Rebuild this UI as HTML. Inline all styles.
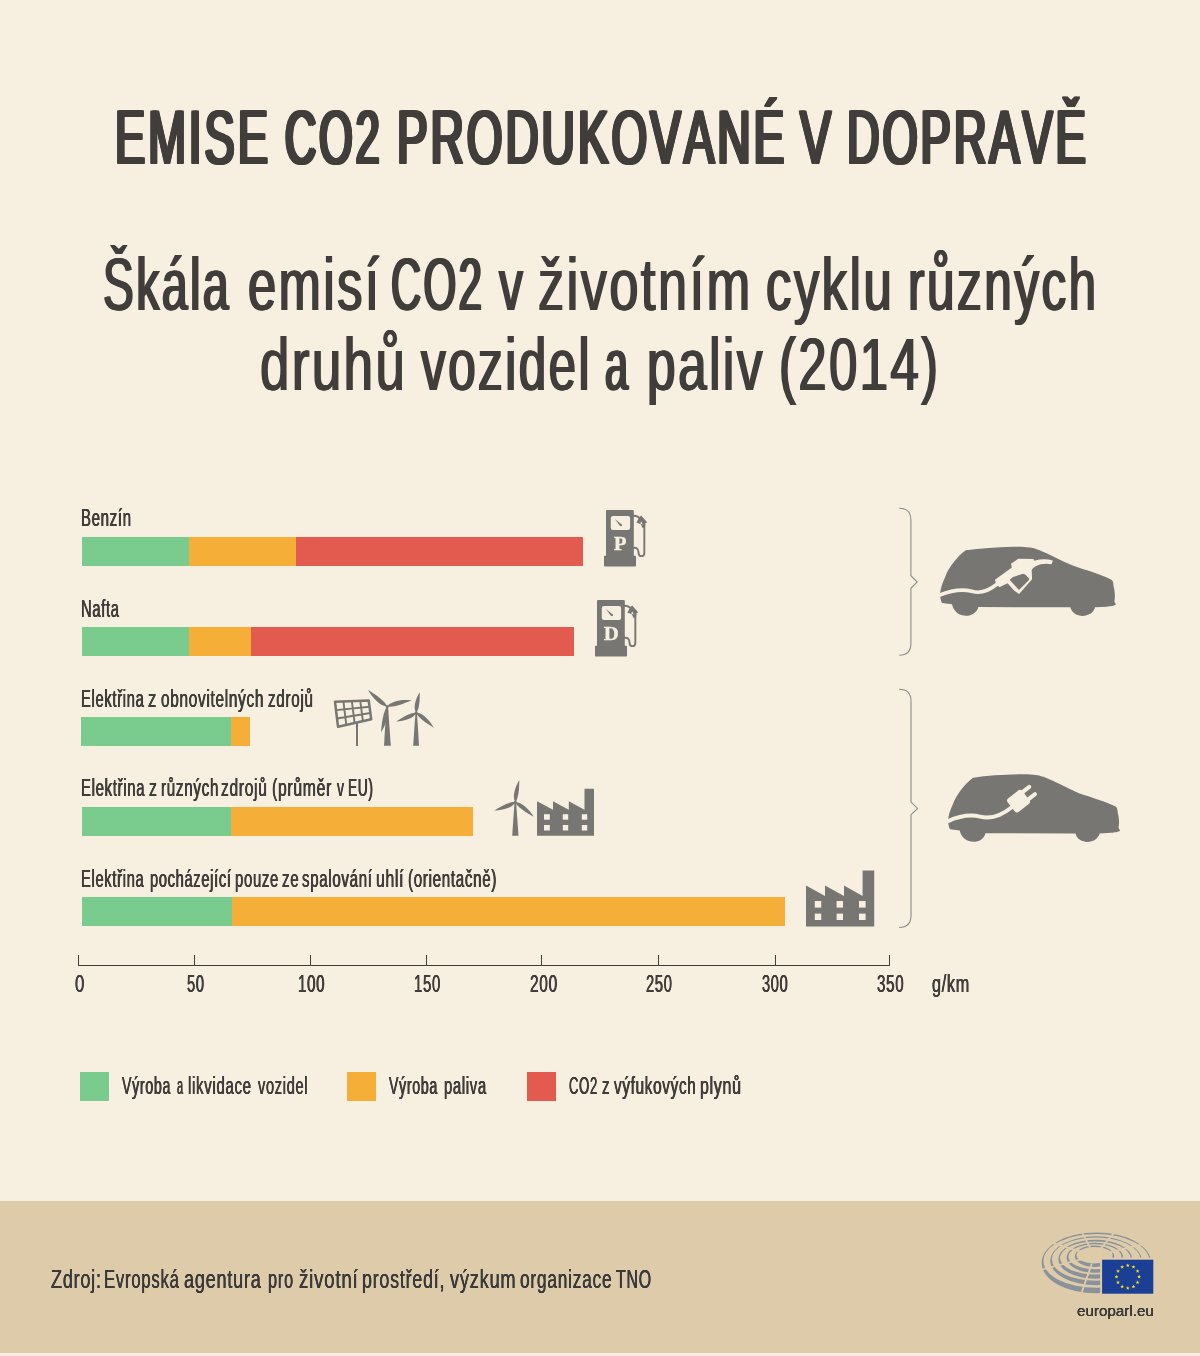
<!DOCTYPE html>
<html lang="cs"><head><meta charset="utf-8"><title>Emise CO2 produkované v dopravě</title><style>
html,body{margin:0;padding:0;font-family:"Liberation Sans",sans-serif}
body{width:1200px;height:1356px;background:#f7f0e1;overflow:hidden}
#page{position:relative;width:1200px;height:1356px;background:#f7f0e1;overflow:hidden;font-family:"Liberation Sans",sans-serif;color:#403d3b;font-kerning:none;font-variant-ligatures:none}
.t{position:absolute;left:0;width:1200px;white-space:nowrap;margin:0;padding:0;font-weight:normal}
.t span{position:absolute;top:0;white-space:nowrap;transform-origin:0 0}
.abs{position:absolute}
.bar{position:absolute;height:29px}
.bar span{position:absolute;top:0;height:29px}
.sw{position:absolute;top:1072px;width:29px;height:29px}
#axis i{position:absolute;display:block;background:#403d3b}
#footer{position:absolute;left:0;top:1200.5px;width:1200px;height:152.9px;background:#decbaa}
</style></head><body>
<div id="page">
<div id="footer"></div>
<svg class="abs" style="left:0;top:0" width="1200" height="1356" viewBox="0 0 1200 1356">
<g><path fill="#777673" d="M607.00 510.00H632.80q1 0 1 1V555.70H635.30q0.7 0 0.7 0.7V565.80q0 0.7 -0.7 0.7H604.70q-0.7 0 -0.7 -0.7V556.40q0 -0.7 0.7 -0.7H606.00V511.00q0 -1 1 -1z"/><rect x="610.80" y="515.90" width="19.3" height="14.1" rx="2.2" fill="#f7f0e1"/><path fill="#777673" d="M614.80 519.07L622.13 524.80L621.87 525.87L620.80 526.13L619.67 525.47Z"/><path fill="none" stroke="#777673" stroke-width="1.9" stroke-linecap="round" d="M633.67 515.73C636.67 515.73 638.67 516.67 640.67 519.33M644.33 522.00L644.33 552.67C644.33 557.33 638.67 557.33 638.53 552.67C638.40 548.67 636.67 547.47 633.67 547.73"/><path fill="#777673" d="M636.40 522.67L639.20 517.20L641.20 515.47L647.33 522.40L645.33 522.93L645.20 526.80L642.67 528.27L640.80 524.13L639.00 523.47Z"/><path fill="#f7f0e1" d="M640.13 523.33L641.47 521.47L642.67 524.80Z"/><text transform="translate(620.20 550.47) scale(1.1 1)" x="0" y="0" text-anchor="middle" font-family="Liberation Serif, serif" font-weight="bold" font-size="19" stroke="#f7f0e1" stroke-width="0.3" fill="#f7f0e1">P</text></g>
<g><path fill="#777673" d="M598.00 600.00H623.80q1 0 1 1V645.70H626.30q0.7 0 0.7 0.7V655.80q0 0.7 -0.7 0.7H595.70q-0.7 0 -0.7 -0.7V646.40q0 -0.7 0.7 -0.7H597.00V601.00q0 -1 1 -1z"/><rect x="601.80" y="605.90" width="19.3" height="14.1" rx="2.2" fill="#f7f0e1"/><path fill="#777673" d="M605.80 609.07L613.13 614.80L612.87 615.87L611.80 616.13L610.67 615.47Z"/><path fill="none" stroke="#777673" stroke-width="1.9" stroke-linecap="round" d="M624.67 605.73C627.67 605.73 629.67 606.67 631.67 609.33M635.33 612.00L635.33 642.67C635.33 647.33 629.67 647.33 629.53 642.67C629.40 638.67 627.67 637.47 624.67 637.73"/><path fill="#777673" d="M627.40 612.67L630.20 607.20L632.20 605.47L638.33 612.40L636.33 612.93L636.20 616.80L633.67 618.27L631.80 614.13L630.00 613.47Z"/><path fill="#f7f0e1" d="M631.13 613.33L632.47 611.47L633.67 614.80Z"/><text transform="translate(611.20 640.47) scale(1.1 1)" x="0" y="0" text-anchor="middle" font-family="Liberation Serif, serif" font-weight="bold" font-size="19" stroke="#f7f0e1" stroke-width="0.3" fill="#f7f0e1">D</text></g>
<path d="M335.00 701.80L368.70 700.50L371.20 719.20L338.00 726.80Z" fill="none" stroke="#777673" stroke-width="2.5" stroke-linejoin="round"/><path d="M343.43 701.48L346.30 724.90M351.85 701.15L354.60 723.00M360.27 700.83L362.90 721.10M336.00 710.13L369.53 706.73M337.00 718.47L370.37 712.97" fill="none" stroke="#777673" stroke-width="1.9"/><path d="M357.00 723.00V746.00" stroke="#777673" stroke-width="2" fill="none"/>
<path fill="#777673" d="M386.40 706.50L388.00 706.50L390.80 745.80L384.00 745.80Z"/><circle cx="387.20" cy="706.50" r="1.5" fill="#777673"/><path fill="#777673" d="M387.20 706.50C385.17 701.10 375.70 694.63 368.00 690.00C372.69 698.13 380.51 706.51 387.20 706.50Z"/><path fill="#777673" d="M387.20 706.50C392.74 707.94 403.37 703.93 411.50 700.30C402.23 699.46 390.98 701.03 387.20 706.50Z"/><path fill="#777673" d="M387.20 706.50C383.27 711.06 381.70 723.05 381.00 732.50C386.20 724.12 390.21 712.71 387.20 706.50Z"/>
<path fill="#777673" d="M415.40 712.80L417.00 712.80L419.00 745.80L413.20 745.80Z"/><circle cx="416.20" cy="712.80" r="1.5" fill="#777673"/><path fill="#777673" d="M416.20 712.80C419.46 709.12 419.86 699.64 419.70 692.20C415.52 698.91 412.76 707.98 416.20 712.80Z"/><path fill="#777673" d="M416.20 712.80C411.16 712.16 402.64 717.17 396.20 721.50C404.40 721.21 413.88 718.39 416.20 712.80Z"/><path fill="#777673" d="M416.20 712.80C418.03 717.78 426.73 723.62 433.80 727.80C429.59 720.27 422.44 712.60 416.20 712.80Z"/>
<path fill="#777673" d="M514.50 802.20L516.10 802.20L518.50 835.80L512.20 835.80Z"/><circle cx="515.30" cy="802.20" r="1.5" fill="#777673"/><path fill="#777673" d="M515.30 802.20C518.66 798.22 519.28 788.02 519.30 780.00C514.95 787.24 511.97 797.02 515.30 802.20Z"/><path fill="#777673" d="M515.30 802.20C510.13 801.44 501.07 806.29 494.20 810.50C502.68 810.39 512.62 807.77 515.30 802.20Z"/><path fill="#777673" d="M515.30 802.20C517.37 807.14 526.39 812.72 533.70 816.70C529.12 809.27 521.58 801.80 515.30 802.20Z"/>
<path fill="#777673" d="M537 835.8V801.2L553 809.8V801.2L568.8 809.8V801.2L584.5 809.8V788.8H594V835.8Z"/><rect x="544" y="814.2" width="5.80" height="5.50" fill="#f7f0e1"/><rect x="544" y="825" width="5.80" height="5.50" fill="#f7f0e1"/><rect x="562.8" y="814.2" width="5.40" height="5.50" fill="#f7f0e1"/><rect x="562.8" y="825" width="5.40" height="5.50" fill="#f7f0e1"/><rect x="581.8" y="814.2" width="5.40" height="5.50" fill="#f7f0e1"/><rect x="581.8" y="825" width="5.40" height="5.50" fill="#f7f0e1"/>
<path fill="#777673" d="M806 926.6V885.6L825 896V885.6L844 896V885.6L862.6 896V870.4H874.2V926.6Z"/><rect x="814.8" y="901" width="6.40" height="6.60" fill="#f7f0e1"/><rect x="814.8" y="913.6" width="6.40" height="6.40" fill="#f7f0e1"/><rect x="836.6" y="901" width="6.40" height="6.60" fill="#f7f0e1"/><rect x="836.6" y="913.6" width="6.40" height="6.40" fill="#f7f0e1"/><rect x="859" y="901" width="6.60" height="6.60" fill="#f7f0e1"/><rect x="859" y="913.6" width="6.60" height="6.40" fill="#f7f0e1"/>
<path d="M899.2 508.3Q910.9 508.3 910.9 520.0V575.7L917.2 582.0L910.9 588.3V643.5000000000001Q910.9 655.2 899.2 655.2" fill="none" stroke="#8d8c87" stroke-width="1.1"/>
<path d="M899.0 689.3Q911.0 689.3 911.0 701.3V802.1L917.6 808.4L911.0 814.6999999999999V915.5Q911.0 927.5 899.0 927.5" fill="none" stroke="#8d8c87" stroke-width="1.1"/>
<path fill="#777673" d="M942.00 603.00C940.33 599.17 939.67 595.83 940.33 591.67C941.00 586.67 943.00 581.67 945.33 576.67C948.33 568.33 956.67 556.67 965.83 550.33C980.00 548.33 996.67 547.17 1013.33 546.83C1025.00 546.50 1031.67 547.33 1038.33 549.67C1050.00 554.17 1061.67 560.83 1073.33 565.83C1086.67 570.50 1101.67 574.67 1111.33 579.67C1113.33 580.83 1113.33 583.33 1113.67 586.67C1115.33 593.33 1115.00 598.33 1114.33 601.67L1116.00 604.33C1114.67 606.00 1110.00 606.33 1106.67 606.67L1095.00 607.33C1092.50 618.33 1073.33 619.17 1070.33 607.33L978.33 607.00C975.33 619.17 955.00 619.17 952.00 604.33Z"/><path fill="none" stroke="#f7f0e1" stroke-width="3.7" d="M939.17 595.33C951.67 590.33 961.67 588.67 971.67 591.33C983.33 594.67 991.67 588.33 1000.00 582.00"/><path fill="#f7f0e1" fill-rule="evenodd" d="M995.00 579.67L1011.80 567.47L1011.00 563.67L1018.33 558.67L1033.53 559.00L1034.47 560.67C1040.33 559.00 1046.33 558.67 1052.87 560.53L1051.67 564.33C1046.33 563.00 1040.33 563.67 1036.33 566.00L1033.13 568.00L1031.67 570.00L1032.07 579.33L1019.13 594.00L1014.33 590.80L1007.53 583.13L999.33 587.13L995.67 582.67ZM1009.67 579.80L1013.00 577.00L1023.13 573.87L1025.13 574.40L1029.40 578.67L1028.73 580.13L1019.00 590.00Z"/>
<path fill="#777673" d="M949.96 829.26C948.33 825.51 947.67 822.25 948.33 818.18C948.98 813.29 950.93 808.40 953.22 803.51C956.15 795.36 964.30 783.95 973.26 777.75C987.12 775.80 1003.42 774.66 1019.72 774.33C1031.13 774.00 1037.65 774.82 1044.17 777.10C1055.58 781.50 1066.99 788.02 1078.40 792.91C1091.44 797.48 1106.11 801.55 1115.56 806.44C1117.52 807.58 1117.52 810.03 1117.85 813.29C1119.48 819.81 1119.15 824.70 1118.50 827.96L1120.13 830.57C1118.82 832.20 1114.26 832.52 1111.00 832.85L1099.59 833.50C1097.14 844.26 1078.40 845.07 1075.47 833.50L985.49 833.17C982.56 845.07 962.67 845.07 959.74 830.57Z"/><path fill="none" stroke="#f7f0e1" stroke-width="4.0" d="M947.50 821.33C960.00 815.83 970.00 814.17 980.00 816.67C993.33 820.00 1003.33 814.17 1012.00 807.00"/><g transform="translate(1018.33 801.33) rotate(-38)"><rect x="-9" y="-8.6" width="18.5" height="17.2" rx="3" fill="#f7f0e1"/><rect x="7" y="-6.7" width="12.5" height="4.1" rx="2" fill="#f7f0e1"/><rect x="7" y="2.6" width="12.5" height="4.1" rx="2" fill="#f7f0e1"/></g>
<g><path d="M1041.73 1262.93A54.66 30.04 0 1 0 1151.04 1262.93A54.66 30.04 0 1 0 1041.73 1262.93ZM1043.48 1260.95A52.91 26.54 0 1 0 1149.29 1260.95A52.91 26.54 0 1 0 1043.48 1260.95ZM1050.12 1260.75A45.91 24.35 0 1 0 1141.94 1260.75A45.91 24.35 0 1 0 1050.12 1260.75ZM1051.88 1259.17A44.16 21.26 0 1 0 1140.19 1259.17A44.16 21.26 0 1 0 1051.88 1259.17ZM1058.29 1259.26A36.97 19.37 0 1 0 1132.23 1259.26A36.97 19.37 0 1 0 1058.29 1259.26ZM1060.04 1257.97A35.22 16.57 0 1 0 1130.48 1257.97A35.22 16.57 0 1 0 1060.04 1257.97ZM1066.69 1257.77A28.25 14.73 0 1 0 1123.18 1257.77A28.25 14.73 0 1 0 1066.69 1257.77ZM1068.44 1256.78A26.50 12.22 0 1 0 1121.43 1256.78A26.50 12.22 0 1 0 1068.44 1256.78ZM1074.92 1256.28A19.66 10.50 0 1 0 1114.23 1256.28A19.66 10.50 0 1 0 1074.92 1256.28ZM1076.55 1255.23A18.03 8.05 0 1 0 1112.60 1255.23A18.03 8.05 0 1 0 1076.55 1255.23Z" fill="#8a929b" fill-rule="evenodd"/><path d="M1086.85 1253.56L1041.51 1239.70M1090.77 1248.82L1075.99 1220.80M1099.67 1249.80L1122.16 1223.28M1102.28 1254.02L1149.51 1242.59M1091.86 1263.45L1081.85 1292.02M1086.75 1257.90L1039.99 1270.00" stroke="#decbaa" stroke-width="1.8" fill="none"/><rect x="1100.12" y="1257.57" width="56.47" height="37.68" fill="#decbaa"/><rect x="1102.1" y="1259.7" width="51.2" height="34" fill="#1b3f94"/><polygon fill="#f9e11e" points="1127.80,1263.40 1128.29,1264.82 1129.80,1264.85 1128.60,1265.76 1129.03,1267.20 1127.80,1266.34 1126.57,1267.20 1127.00,1265.76 1125.80,1264.85 1127.31,1264.82"/><polygon fill="#f9e11e" points="1133.45,1264.91 1133.94,1266.33 1135.45,1266.36 1134.25,1267.27 1134.68,1268.71 1133.45,1267.85 1132.22,1268.71 1132.65,1267.27 1131.45,1266.36 1132.96,1266.33"/><polygon fill="#f9e11e" points="1137.59,1269.05 1138.08,1270.47 1139.58,1270.50 1138.38,1271.41 1138.82,1272.85 1137.59,1271.99 1136.35,1272.85 1136.79,1271.41 1135.59,1270.50 1137.09,1270.47"/><polygon fill="#f9e11e" points="1139.10,1274.70 1139.59,1276.12 1141.10,1276.15 1139.90,1277.06 1140.33,1278.50 1139.10,1277.64 1137.87,1278.50 1138.30,1277.06 1137.10,1276.15 1138.61,1276.12"/><polygon fill="#f9e11e" points="1137.59,1280.35 1138.08,1281.77 1139.58,1281.80 1138.38,1282.71 1138.82,1284.15 1137.59,1283.29 1136.35,1284.15 1136.79,1282.71 1135.59,1281.80 1137.09,1281.77"/><polygon fill="#f9e11e" points="1133.45,1284.49 1133.94,1285.91 1135.45,1285.94 1134.25,1286.85 1134.68,1288.29 1133.45,1287.43 1132.22,1288.29 1132.65,1286.85 1131.45,1285.94 1132.96,1285.91"/><polygon fill="#f9e11e" points="1127.80,1286.00 1128.29,1287.42 1129.80,1287.45 1128.60,1288.36 1129.03,1289.80 1127.80,1288.94 1126.57,1289.80 1127.00,1288.36 1125.80,1287.45 1127.31,1287.42"/><polygon fill="#f9e11e" points="1122.15,1284.49 1122.64,1285.91 1124.15,1285.94 1122.95,1286.85 1123.38,1288.29 1122.15,1287.43 1120.92,1288.29 1121.35,1286.85 1120.15,1285.94 1121.66,1285.91"/><polygon fill="#f9e11e" points="1118.01,1280.35 1118.51,1281.77 1120.01,1281.80 1118.81,1282.71 1119.25,1284.15 1118.01,1283.29 1116.78,1284.15 1117.22,1282.71 1116.02,1281.80 1117.52,1281.77"/><polygon fill="#f9e11e" points="1116.50,1274.70 1116.99,1276.12 1118.50,1276.15 1117.30,1277.06 1117.73,1278.50 1116.50,1277.64 1115.27,1278.50 1115.70,1277.06 1114.50,1276.15 1116.01,1276.12"/><polygon fill="#f9e11e" points="1118.01,1269.05 1118.51,1270.47 1120.01,1270.50 1118.81,1271.41 1119.25,1272.85 1118.01,1271.99 1116.78,1272.85 1117.22,1271.41 1116.02,1270.50 1117.52,1270.47"/><polygon fill="#f9e11e" points="1122.15,1264.91 1122.64,1266.33 1124.15,1266.36 1122.95,1267.27 1123.38,1268.71 1122.15,1267.85 1120.92,1268.71 1121.35,1267.27 1120.15,1266.36 1121.66,1266.33"/></g>
</svg>
<h1 class="t h1" style="top:100.30px;font-size:75.4px;line-height:75.4px;"><span style="left:114.87px;transform:scaleX(0.6009);letter-spacing:4.99px;text-shadow:-2.64px 0.00px 0,-2.64px 1.00px 0,0.00px 1.00px 0,2.64px 0.00px 0,2.64px 1.00px 0;">EMISE</span> <span style="left:284.50px;transform:scaleX(0.5720);letter-spacing:5.24px;text-shadow:-2.95px 0.00px 0,-2.95px 1.00px 0,0.00px 1.00px 0,2.95px 0.00px 0,2.95px 1.00px 0;">CO2</span> <span style="left:396.99px;transform:scaleX(0.6090);letter-spacing:4.93px;text-shadow:-2.56px 0.00px 0,-2.56px 1.00px 0,0.00px 1.00px 0,2.56px 0.00px 0,2.56px 1.00px 0;">PRODUKOVANÉ</span> <span style="left:799.62px;transform:scaleX(0.6175);letter-spacing:4.86px;text-shadow:-2.47px 0.00px 0,-2.47px 1.00px 0,0.00px 1.00px 0,2.47px 0.00px 0,2.47px 1.00px 0;">V</span> <span style="left:847.39px;transform:scaleX(0.5987);letter-spacing:5.01px;text-shadow:-2.66px 0.00px 0,-2.66px 1.00px 0,0.00px 1.00px 0,2.66px 0.00px 0,2.66px 1.00px 0;">DOPRAVĚ</span></h1>
<h2 class="t h2" style="top:248.30px;font-size:74.5px;line-height:74.5px;"><span style="left:103.13px;transform:scaleX(0.6195);letter-spacing:4.04px;text-shadow:-1.81px 0.00px 0,1.81px 0.00px 0;">Škála</span> <span style="left:247.57px;transform:scaleX(0.6795);letter-spacing:3.68px;text-shadow:-1.36px 0.00px 0,1.36px 0.00px 0;">emisí</span> <span style="left:391.19px;transform:scaleX(0.5607);letter-spacing:4.46px;text-shadow:-2.34px 0.00px 0,2.34px 0.00px 0;">CO2</span> <span style="left:498.88px;transform:scaleX(0.6426);letter-spacing:3.89px;text-shadow:-1.63px 0.00px 0,1.63px 0.00px 0;">v</span> <span style="left:537.93px;transform:scaleX(0.7018);letter-spacing:3.56px;text-shadow:-1.21px 0.00px 0,1.21px 0.00px 0;">životním</span> <span style="left:766.26px;transform:scaleX(0.6816);letter-spacing:3.67px;text-shadow:-1.35px 0.00px 0,1.35px 0.00px 0;">cyklu</span> <span style="left:907.69px;transform:scaleX(0.6637);letter-spacing:3.77px;text-shadow:-1.47px 0.00px 0,1.47px 0.00px 0;">různých</span></h2>
<h2 class="t h2" style="top:328.30px;font-size:74.5px;line-height:74.5px;"><span style="left:260.32px;transform:scaleX(0.7077);letter-spacing:3.53px;text-shadow:-1.18px 0.00px 0,1.18px 0.00px 0;">druhů</span> <span style="left:420.81px;transform:scaleX(0.6619);letter-spacing:3.78px;text-shadow:-1.48px 0.00px 0,1.48px 0.00px 0;">vozidel</span> <span style="left:605.38px;transform:scaleX(0.5549);letter-spacing:4.51px;text-shadow:-2.40px 0.00px 0,2.40px 0.00px 0;">a</span> <span style="left:647.09px;transform:scaleX(0.6885);letter-spacing:3.63px;text-shadow:-1.30px 0.00px 0,1.30px 0.00px 0;">paliv</span> <span style="left:779.48px;transform:scaleX(0.6805);letter-spacing:3.67px;text-shadow:-1.35px 0.00px 0,1.35px 0.00px 0;">(2014)</span></h2>
<div class="t lab" style="top:507.30px;font-size:23.5px;line-height:23.5px;"><span style="left:80.97px;transform:scaleX(0.6355);letter-spacing:1.10px;text-shadow:-0.47px 0.00px 0,0.47px 0.00px 0;">Benzín</span></div>
<div class="t lab" style="top:598.30px;font-size:23.5px;line-height:23.5px;"><span style="left:80.99px;transform:scaleX(0.6268);letter-spacing:1.12px;text-shadow:-0.48px 0.00px 0,0.48px 0.00px 0;">Nafta</span></div>
<div class="t lab" style="top:688.30px;font-size:23.5px;line-height:23.5px;"><span style="left:80.99px;transform:scaleX(0.6257);letter-spacing:1.12px;text-shadow:-0.48px 0.00px 0,0.48px 0.00px 0;">Elektřina</span> <span style="left:148.43px;transform:scaleX(0.7063);letter-spacing:0.99px;text-shadow:-0.42px 0.00px 0,0.42px 0.00px 0;">z</span> <span style="left:160.95px;transform:scaleX(0.6544);letter-spacing:1.07px;text-shadow:-0.46px 0.00px 0,0.46px 0.00px 0;">obnovitelných</span> <span style="left:267.78px;transform:scaleX(0.6472);letter-spacing:1.08px;text-shadow:-0.46px 0.00px 0,0.46px 0.00px 0;">zdrojů</span></div>
<div class="t lab" style="top:777.30px;font-size:23.5px;line-height:23.5px;"><span style="left:80.98px;transform:scaleX(0.6335);letter-spacing:1.10px;text-shadow:-0.47px 0.00px 0,0.47px 0.00px 0;">Elektřina</span> <span style="left:148.66px;transform:scaleX(0.6752);letter-spacing:1.04px;text-shadow:-0.44px 0.00px 0,0.44px 0.00px 0;">z</span> <span style="left:160.79px;transform:scaleX(0.6465);letter-spacing:1.08px;text-shadow:-0.46px 0.00px 0,0.46px 0.00px 0;">různých</span> <span style="left:221.27px;transform:scaleX(0.6619);letter-spacing:1.06px;text-shadow:-0.45px 0.00px 0,0.45px 0.00px 0;">zdrojů</span> <span style="left:272.12px;transform:scaleX(0.6703);letter-spacing:1.04px;text-shadow:-0.45px 0.00px 0,0.45px 0.00px 0;">(průměr</span> <span style="left:336.75px;transform:scaleX(0.5954);letter-spacing:1.18px;text-shadow:-0.50px 0.00px 0,0.50px 0.00px 0;">v</span> <span style="left:347.68px;transform:scaleX(0.5824);letter-spacing:1.20px;text-shadow:-0.52px 0.00px 0,0.52px 0.00px 0;">EU)</span></div>
<div class="t lab" style="top:868.30px;font-size:23.5px;line-height:23.5px;"><span style="left:81.00px;transform:scaleX(0.6246);letter-spacing:1.12px;text-shadow:-0.48px 0.00px 0,0.48px 0.00px 0;">Elektřina</span> <span style="left:149.86px;transform:scaleX(0.6218);letter-spacing:1.13px;text-shadow:-0.48px 0.00px 0,0.48px 0.00px 0;">pocházející</span> <span style="left:234.84px;transform:scaleX(0.6328);letter-spacing:1.11px;text-shadow:-0.47px 0.00px 0,0.47px 0.00px 0;">pouze</span> <span style="left:282.19px;transform:scaleX(0.6441);letter-spacing:1.09px;text-shadow:-0.47px 0.00px 0,0.47px 0.00px 0;">ze</span> <span style="left:302.38px;transform:scaleX(0.6391);letter-spacing:1.10px;text-shadow:-0.47px 0.00px 0,0.47px 0.00px 0;">spalování</span> <span style="left:375.78px;transform:scaleX(0.6704);letter-spacing:1.04px;text-shadow:-0.45px 0.00px 0,0.45px 0.00px 0;">uhlí</span> <span style="left:408.36px;transform:scaleX(0.6434);letter-spacing:1.09px;text-shadow:-0.47px 0.00px 0,0.47px 0.00px 0;">(orientačně)</span></div>
<div class="t tick" style="top:973.30px;font-size:23.0px;line-height:23.0px;"><span style="left:75.45px;transform:scaleX(0.7276);letter-spacing:0.96px;text-shadow:-0.41px 0.00px 0,0.41px 0.00px 0;">0</span></div>
<div class="t tick" style="top:973.30px;font-size:23.0px;line-height:23.0px;"><span style="left:187.21px;transform:scaleX(0.6354);letter-spacing:1.10px;text-shadow:-0.47px 0.00px 0,0.47px 0.00px 0;">50</span></div>
<div class="t tick" style="top:973.30px;font-size:23.0px;line-height:23.0px;"><span style="left:298.15px;transform:scaleX(0.6550);letter-spacing:1.07px;text-shadow:-0.46px 0.00px 0,0.46px 0.00px 0;">100</span></div>
<div class="t tick" style="top:973.30px;font-size:23.0px;line-height:23.0px;"><span style="left:414.16px;transform:scaleX(0.6494);letter-spacing:1.08px;text-shadow:-0.46px 0.00px 0,0.46px 0.00px 0;">150</span></div>
<div class="t tick" style="top:973.30px;font-size:23.0px;line-height:23.0px;"><span style="left:529.52px;transform:scaleX(0.6718);letter-spacing:1.04px;text-shadow:-0.45px 0.00px 0,0.45px 0.00px 0;">200</span></div>
<div class="t tick" style="top:973.30px;font-size:23.0px;line-height:23.0px;"><span style="left:645.76px;transform:scaleX(0.6388);letter-spacing:1.10px;text-shadow:-0.47px 0.00px 0,0.47px 0.00px 0;">250</span></div>
<div class="t tick" style="top:973.30px;font-size:23.0px;line-height:23.0px;"><span style="left:761.74px;transform:scaleX(0.6339);letter-spacing:1.10px;text-shadow:-0.47px 0.00px 0,0.47px 0.00px 0;">300</span></div>
<div class="t tick" style="top:973.30px;font-size:23.0px;line-height:23.0px;"><span style="left:877.22px;transform:scaleX(0.6585);letter-spacing:1.06px;text-shadow:-0.46px 0.00px 0,0.46px 0.00px 0;">350</span></div>
<div class="t tick" style="top:973.30px;font-size:23.0px;line-height:23.0px;"><span style="left:932.22px;transform:scaleX(0.7053);letter-spacing:0.99px;text-shadow:-0.43px 0.00px 0,0.43px 0.00px 0;">g/km</span></div>
<div class="t leg" style="top:1075.30px;font-size:23.5px;line-height:23.5px;"><span style="left:122.14px;transform:scaleX(0.6025);letter-spacing:1.16px;text-shadow:-0.50px 0.00px 0,0.50px 0.00px 0;">Výroba</span> <span style="left:176.74px;transform:scaleX(0.4639);letter-spacing:1.51px;text-shadow:-0.65px 0.00px 0,0.65px 0.00px 0;">a</span> <span style="left:188.19px;transform:scaleX(0.6366);letter-spacing:1.10px;text-shadow:-0.47px 0.00px 0,0.47px 0.00px 0;">likvidace</span> <span style="left:258.45px;transform:scaleX(0.6196);letter-spacing:1.13px;text-shadow:-0.48px 0.00px 0,0.48px 0.00px 0;">vozidel</span></div>
<div class="t leg" style="top:1075.30px;font-size:23.5px;line-height:23.5px;"><span style="left:389.44px;transform:scaleX(0.6012);letter-spacing:1.16px;text-shadow:-0.50px 0.00px 0,0.50px 0.00px 0;">Výroba</span> <span style="left:444.15px;transform:scaleX(0.6295);letter-spacing:1.11px;text-shadow:-0.48px 0.00px 0,0.48px 0.00px 0;">paliva</span></div>
<div class="t leg" style="top:1075.30px;font-size:23.5px;line-height:23.5px;"><span style="left:569.14px;transform:scaleX(0.5550);letter-spacing:1.26px;text-shadow:-0.54px 0.00px 0,0.54px 0.00px 0;">CO2</span> <span style="left:601.69px;transform:scaleX(0.6440);letter-spacing:1.09px;text-shadow:-0.47px 0.00px 0,0.47px 0.00px 0;">z</span> <span style="left:613.75px;transform:scaleX(0.6490);letter-spacing:1.08px;text-shadow:-0.46px 0.00px 0,0.46px 0.00px 0;">výfukových</span> <span style="left:700.07px;transform:scaleX(0.6798);letter-spacing:1.03px;text-shadow:-0.44px 0.00px 0,0.44px 0.00px 0;">plynů</span></div>
<div class="t src" style="top:1266.30px;font-size:26.5px;line-height:26.5px;color:#3b3a3a;"><span style="left:50.88px;transform:scaleX(0.6793);letter-spacing:1.18px;text-shadow:-0.22px 0.00px 0,0.22px 0.00px 0;">Zdroj:</span> <span style="left:104.39px;transform:scaleX(0.6270);letter-spacing:1.28px;text-shadow:-0.24px 0.00px 0,0.24px 0.00px 0;">Evropská</span> <span style="left:184.38px;transform:scaleX(0.6803);letter-spacing:1.18px;text-shadow:-0.22px 0.00px 0,0.22px 0.00px 0;">agentura</span> <span style="left:267.90px;transform:scaleX(0.6144);letter-spacing:1.30px;text-shadow:-0.24px 0.00px 0,0.24px 0.00px 0;">pro</span> <span style="left:299.19px;transform:scaleX(0.7044);letter-spacing:1.14px;text-shadow:-0.21px 0.00px 0,0.21px 0.00px 0;">životní</span> <span style="left:362.10px;transform:scaleX(0.6722);letter-spacing:1.19px;text-shadow:-0.22px 0.00px 0,0.22px 0.00px 0;">prostředí,</span> <span style="left:449.89px;transform:scaleX(0.6854);letter-spacing:1.17px;text-shadow:-0.22px 0.00px 0,0.22px 0.00px 0;">výzkum</span> <span style="left:520.03px;transform:scaleX(0.6510);letter-spacing:1.23px;text-shadow:-0.23px 0.00px 0,0.23px 0.00px 0;">organizace</span> <span style="left:615.79px;transform:scaleX(0.5992);letter-spacing:1.34px;text-shadow:-0.25px 0.00px 0,0.25px 0.00px 0;">TNO</span></div>
<div class="t eu" style="top:1303.30px;font-size:15.5px;line-height:15.5px;color:#3b3a3a;"><span style="left:1077.20px;transform:scaleX(0.9801);text-shadow:-0.05px 0.00px 0,0.05px 0.00px 0;">europarl.eu</span></div>
<div class="bar" style="left:82px;top:537px;width:501px"><span style="left:0px;width:107px;background:#7acc8e"></span><span style="left:107px;width:107px;background:#f5af38"></span><span style="left:214px;width:287px;background:#e25b4e"></span></div>
<div class="bar" style="left:82px;top:627px;width:492px"><span style="left:0px;width:107px;background:#7acc8e"></span><span style="left:107px;width:62px;background:#f5af38"></span><span style="left:169px;width:323px;background:#e25b4e"></span></div>
<div class="bar" style="left:81px;top:717px;width:169px"><span style="left:0px;width:150px;background:#7acc8e"></span><span style="left:150px;width:19px;background:#f5af38"></span></div>
<div class="bar" style="left:82px;top:807px;width:391px"><span style="left:0px;width:149px;background:#7acc8e"></span><span style="left:149px;width:242px;background:#f5af38"></span></div>
<div class="bar" style="left:82px;top:897px;width:703px"><span style="left:0px;width:150px;background:#7acc8e"></span><span style="left:150px;width:553px;background:#f5af38"></span></div>
<div id="axis"><i style="left:79px;top:965px;width:811px;height:1px"></i><i style="left:78px;top:955px;width:1px;height:11px"></i><i style="left:194px;top:955px;width:1px;height:11px"></i><i style="left:310px;top:955px;width:1px;height:11px"></i><i style="left:426px;top:955px;width:1px;height:11px"></i><i style="left:541px;top:955px;width:1px;height:11px"></i><i style="left:658px;top:955px;width:1px;height:11px"></i><i style="left:775px;top:955px;width:1px;height:11px"></i><i style="left:889px;top:955px;width:1px;height:11px"></i></div>
<div class="sw" style="left:80px;background:#7acc8e"></div>
<div class="sw" style="left:347px;background:#f5af38"></div>
<div class="sw" style="left:527px;background:#e25b4e"></div>
</div>
</body></html>
